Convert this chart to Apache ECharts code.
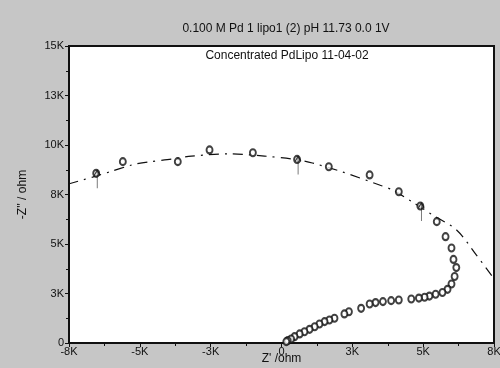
<!DOCTYPE html>
<html>
<head>
<meta charset="utf-8">
<script src="https://cdn.jsdelivr.net/npm/echarts@6/dist/echarts.min.js"></script>
<style>
  html, body { margin: 0; padding: 0; background: #c6c6c6; }
  #nyquist { width: 500px; height: 368px; }
</style>
</head>
<body>
<div id="nyquist"></div>
<script>
// 测量点 Z' / -Z'' (ohm)
var zReal = [-6540, -5600, -3660, -2540, -1010, 550, 1670, 3110, 4140, 4900,
  5480, 5790, 6000, 6070, 6170, 6110, 6000, 5860, 5680, 5440,
  5220, 5050, 4850, 4580, 4140, 3870, 3580, 3320, 3110, 2810,
  2380, 2220, 1870, 1690, 1520, 1340, 1170, 990, 810, 640,
  460, 340, 220, 170]
var zImag = [8570, 9160, 9160, 9750, 9610, 9270, 8900, 8490, 7640, 6920,
  6130, 5370, 4800, 4220, 3810, 3360, 2980, 2710, 2550, 2460,
  2370, 2310, 2270, 2220, 2170, 2140, 2090, 2040, 1970, 1750,
  1580, 1470, 1250, 1160, 1080, 960, 820, 690, 570, 460,
  320, 200, 120, 70]
// 拟合曲线
var fitReal = [-7520, -6670, -6070, -5290, -4730, -3850, -3180, -1840, -600, 390,
  1090, 2150, 3460, 3920, 4620, 5330, 6180, 6880, 7480]
var fitImag = [8030, 8380, 8640, 8990, 9140, 9290, 9440, 9550, 9440, 9290,
  9090, 8640, 7980, 7730, 7120, 6470, 5710, 4440, 3280]
// 箭头标记
var arrowReal = [-6540, 550, 4900]
var arrowImag = [8570, 9270, 6920]
// 刻度
var axisMin = -7500
var axisMax = 7500
var yMax = 15000
var tickStep = 2500

function kLabel(v) {
  if (v === 0) return '0'
  return (v < 0 ? '-' : '') + Math.round(Math.abs(v) / 1000) + 'K'
}
function zip(a, b) {
  return a.map(function (v, i) { return [v, b[i]] })
}

var myChart = echarts.init(document.getElementById('nyquist'))
var font = 'Liberation Sans'
var option = {
  backgroundColor: '#c6c6c6',
  animation: false,
  title: [
    {
      text: '0.100 M Pd 1 lipo1 (2) pH 11.73 0.0 1V',
      left: 281, top: 18, textAlign: 'center',
      textStyle: { fontFamily: font, fontSize: 12, fontWeight: 'normal', color: '#111' }
    },
    {
      text: 'Concentrated PdLipo 11-04-02',
      left: 282, top: 45, textAlign: 'center',
      textStyle: { fontFamily: font, fontSize: 12, fontWeight: 'normal', color: '#111' }
    }
  ],
  grid: {
    left: 69, right: 6, top: 46, bottom: 25,
    outerBoundsMode: 'none',
    show: true, backgroundColor: '#fff', borderColor: '#111', borderWidth: 2
  },
  xAxis: {
    type: 'value', min: axisMin, max: axisMax, interval: tickStep,
    name: "Z' /ohm", nameLocation: 'middle', nameGap: 10, nameMoveOverlap: false,
    nameTextStyle: { fontFamily: font, fontSize: 12, color: '#111' },
    axisLine: { onZero: false, lineStyle: { color: '#111', width: 1.5 } },
    axisTick: { inside: false, length: 4, lineStyle: { color: '#111' } },
    minorTick: { show: true, splitNumber: 2, length: 3, lineStyle: { color: '#111' } },
    axisLabel: { formatter: kLabel, margin: 3, fontFamily: font, fontSize: 11, color: '#111' },
    splitLine: { show: false }
  },
  yAxis: {
    type: 'value', min: 0, max: yMax, interval: tickStep,
    name: "-Z'' / ohm", nameLocation: 'middle', nameGap: 40, nameMoveOverlap: false,
    nameTextStyle: { fontFamily: font, fontSize: 12, color: '#111' },
    axisLine: { onZero: false, lineStyle: { color: '#111', width: 1.5 } },
    axisTick: { inside: false, length: 4, lineStyle: { color: '#111' } },
    minorTick: { show: true, splitNumber: 2, length: 3, lineStyle: { color: '#111' } },
    axisLabel: { formatter: kLabel, margin: 5, fontFamily: font, fontSize: 11, color: '#111' },
    splitLine: { show: false }
  },
  series: [
    {
      name: 'fit',
      type: 'line',
      data: zip(fitReal, fitImag),
      smooth: 0.3,
      symbol: 'none',
      z: 1,
      lineStyle: { color: '#111', width: 1.2, type: [10, 6, 2, 6] }
    },
    {
      name: 'data',
      type: 'scatter',
      data: zip(zReal, zImag),
      symbol: 'emptyCircle',
      symbolSize: [6, 7],
      z: 3,
      itemStyle: { color: '#111', borderColor: '#111', borderWidth: 1.1 }
    },
    {
      name: 'arrow',
      type: 'scatter',
      data: zip(arrowReal, arrowImag),
      symbol: 'path://M4,0 L4,18 M4,0 L1,5 M4,0 L7,5',
      symbolSize: [6, 18],
      symbolOffset: [1, 6],
      z: 4,
      itemStyle: { color: 'none', borderColor: '#111', borderWidth: 1.2 }
    }
  ]
}
myChart.setOption(option)
</script>
</body>
</html>
